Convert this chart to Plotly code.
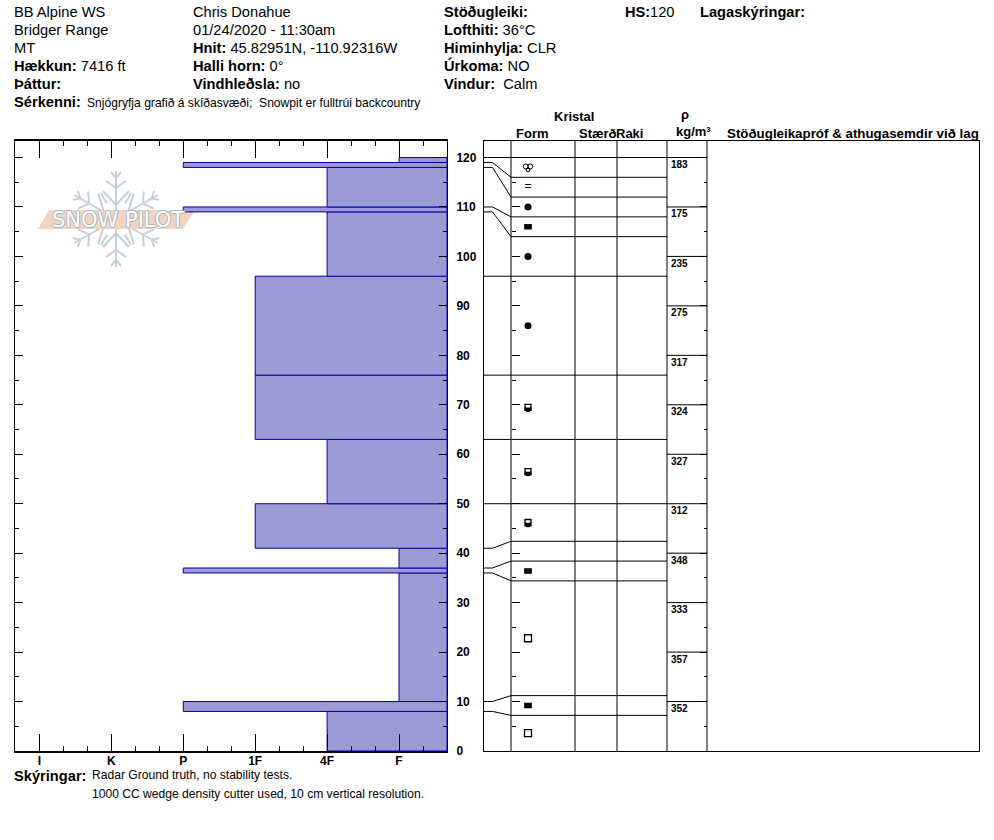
import math
import plotly.graph_objects as go

# ---------- data ----------
hardness_labels = ["I", "K", "P", "1F", "4F", "F"]
hardness_values = [1, 2, 3, 4, 5, 6]
layer_bottom = [0, 8, 10, 36, 37, 41, 50, 63, 76, 96, 109, 110, 118, 119]
layer_top = [8, 10, 36, 37, 41, 50, 63, 76, 96, 109, 110, 118, 119, 120]
layer_hard = ["4F", "P", "F", "P", "F", "1F", "4F", "1F", "1F", "4F", "P", "4F", "P", "F"]

boundary_depth = [120, 119, 118, 110, 109, 96, 76, 63, 50, 41, 37, 36, 10, 8]
boundary_display = [120, 116, 112, 108, 104, 96, 76, 63, 50, 42.4, 38.4, 34.4, 11.2, 7.2]

density_depth = [120, 110, 100, 90, 80, 70, 60, 50, 40, 30, 20, 10]
density_value = [183, 175, 235, 275, 317, 324, 327, 312, 348, 333, 357, 352]

round_depths = [110, 100, 86]
facet_depths = [106, 36.4, 9.2]
depth_hoar_depths = [22.8, 3.6]
mixed_depths = [69.5, 56.5, 46.2]
equals_depths = [114]
surface_depths = [118]

# ---------- page geometry ----------
W, H = 994, 840
PX_L, PX_R = 15, 447
PX_TOP, PX_BOT = 141, 751
G_L, G_R = 484, 979
DEPTH_MAX = 123.34
COL_BEND, COL_FORM, COL_SIZE, COL_MOIST, COL_DENS, COL_COMM = 492.5, 511, 575, 617, 667, 707
HARD_MIN, HARD_MAX = 0.66, 6.667
FONT = "Liberation Sans"
BAR_FILL = "#9c9bd6"
BAR_EDGE = "#0000a5"

def fx(x): return x / W
def fy(y): return 1 - y / H

hmap = dict(zip(hardness_labels, hardness_values))

fig = go.Figure()

# hardness bars
fig.add_trace(go.Bar(
    orientation="h",
    y=[(a + b) / 2 for a, b in zip(layer_bottom, layer_top)],
    width=[b - a for a, b in zip(layer_bottom, layer_top)],
    base=[hmap[h] for h in layer_hard],
    x=[HARD_MAX - hmap[h] for h in layer_hard],
    marker=dict(color=BAR_FILL, line=dict(color=BAR_EDGE, width=1)),
    xaxis="x", yaxis="y", showlegend=False, hoverinfo="skip",
))

def line(xs, ys, width=1):
    fig.add_trace(go.Scatter(x=xs, y=ys, mode="lines", line=dict(color="black", width=width),
                             xaxis="x2", yaxis="y2", showlegend=False, hoverinfo="skip"))

# columns
for c in [COL_FORM, COL_SIZE, COL_MOIST, COL_DENS, COL_COMM]:
    line([c, c], [0, DEPTH_MAX])
# top line of the layers across density too
line([COL_DENS, COL_COMM], [120, 120])
# layer boundaries with connector
for a, d in zip(boundary_depth, boundary_display):
    line([G_L, COL_BEND, COL_FORM, COL_DENS], [a, a, d, d])
# density steps
for d in density_depth[1:]:
    line([COL_DENS, COL_COMM], [d, d])

# density labels, on the axis at the density column's right edge
fig.add_trace(go.Scatter(
    x=[COL_DENS + 4] * len(density_depth), y=[d - 0.6 for d in density_depth],
    text=[str(v) for v in density_value], mode="text", textposition="bottom right",
    textfont=dict(family=FONT, size=10, color="black", weight=700),
    xaxis="x2", yaxis="y4", showlegend=False, hoverinfo="skip"))

XSYM = 528
def sym(ys, symbol, size, lw=0, fill="black", dx=0):
    fig.add_trace(go.Scatter(
        x=[XSYM + dx] * len(ys), y=ys, mode="markers",
        marker=dict(symbol=symbol, size=size, color=fill, line=dict(color="black", width=lw)),
        xaxis="x2", yaxis="y3", showlegend=False, hoverinfo="skip"))

sym(round_depths, "circle", 7)
sym(facet_depths, "line-ew", 5.5, lw=5.5)
sym(depth_hoar_depths, "square-open", 7, lw=1.3)
sym([d - 0.3 for d in mixed_depths], "circle", 6.5)
sym([d + 0.4 for d in mixed_depths], "square", 4.5, fill="white")
sym(mixed_depths, "square-open", 6, lw=1.3)
sym([d + 0.2 for d in surface_depths], "circle-open", 5, lw=1, dx=-2.2)
sym([d + 0.2 for d in surface_depths], "circle-open", 5, lw=1, dx=2.2)
sym([d - 0.5 for d in surface_depths], "circle-open", 4, lw=1)
fig.add_trace(go.Scatter(
    x=[XSYM] * len(equals_depths), y=equals_depths, mode="text", text=["="],
    textfont=dict(family=FONT, size=12, color="black"),
    xaxis="x2", yaxis="y3", showlegend=False, hoverinfo="skip"))

# ---------- logo (decoration, page coordinates) ----------
FLAKE = "#c3d2da"
cx, cy = 116, 219
def seg(x0, y0, x1, y1, width=2, color=FLAKE):
    return dict(type="line", xref="paper", yref="paper", layer="below",
                x0=fx(x0), y0=fy(y0), x1=fx(x1), y1=fy(y1), line=dict(color=color, width=width))
shapes = []
for k in range(6):
    t = math.radians(60 * k)
    ca, sa = math.cos(t), math.sin(t)
    def rot(u, v):
        return cx + u * ca - v * sa, cy + u * sa + v * ca
    shapes.append(seg(*rot(0, -8), *rot(0, -48)))
    for r0, sx, r1 in [(14, 13, 28), (31, 10, 38), (41, 5, 47)]:
        shapes.append(seg(*rot(0, -r0), *rot(-sx, -r1)))
        shapes.append(seg(*rot(0, -r0), *rot(sx, -r1)))
    t2 = math.radians(60 * k + 30)
    shapes.append(seg(cx + 18 * math.sin(t2), cy - 18 * math.cos(t2),
                      cx + 30 * math.sin(t2), cy - 30 * math.cos(t2)))
shapes.append(dict(type="path", xref="paper", yref="paper", layer="below",
                   path=f"M {fx(38)} {fy(229)} L {fx(49)} {fy(210)} L {fx(195)} {fy(210)} L {fx(183)} {fy(229)} Z",
                   fillcolor="#f0d6c2", line=dict(width=0)))

# ---------- text ----------
def txt(x, y, s, size=14.67, anchor="left", color="black"):
    return dict(x=fx(x), y=fy(y), xref="paper", yref="paper", text=s, showarrow=False,
                xanchor=anchor, yanchor="middle", align="left",
                font=dict(family=FONT, size=size, color=color), borderpad=0, borderwidth=0)

rows = [12, 30, 48, 66, 84]
ann = [
    txt(14, rows[0], "BB Alpine WS"), txt(14, rows[1], "Bridger Range"), txt(14, rows[2], "MT"),
    txt(14, rows[3], "<b>Hækkun:</b> 7416 ft"), txt(14, rows[4], "<b>Þáttur:</b>"),
    txt(193, rows[0], "Chris Donahue"), txt(193, rows[1], "01/24/2020 - 11:30am"),
    txt(193, rows[2], "<b>Hnit:</b> 45.82951N, -110.92316W"),
    txt(193, rows[3], "<b>Halli horn:</b> 0°"), txt(193, rows[4], "<b>Vindhleðsla:</b> no"),
    txt(444, rows[0], "<b>Stöðugleiki:</b>"), txt(444, rows[1], "<b>Lofthiti:</b> 36°C"),
    txt(444, rows[2], "<b>Himinhylja:</b> CLR"), txt(444, rows[3], "<b>Úrkoma:</b> NO"),
    txt(444, rows[4], "<b>Vindur:</b>  Calm"),
    txt(625, rows[0], "<b>HS:</b>"), txt(650, rows[0], "120"), txt(700, rows[0], "<b>Lagaskýringar:</b>"),
    txt(14, 102, "<b>Sérkenni:</b>"),
    txt(87, 103, "Snjógryfja grafið á skíðasvæði;  Snowpit er fulltrúi backcountry", size=12.1),
    txt(574, 117, "<b>Kristal</b>", size=13, anchor="center"),
    txt(516, 133, "<b>Form</b>", size=13), txt(579, 133, "<b>Stærð</b>", size=13),
    txt(616, 133, "<b>Raki</b>", size=13),
    txt(685, 115, "<b>ρ</b>", size=13, anchor="center"),
    txt(693, 131, "<b>kg/m³</b>", size=13, anchor="center"),
    txt(727, 133, "<b>Stöðugleikapróf &amp; athugasemdir við lag</b>", size=13.33),
    txt(14, 776, "<b>Skýringar:</b>"),
    txt(92, 775, "Radar Ground truth, no stability tests.", size=12.1),
    txt(92, 794, "1000 CC wedge density cutter used, 10 cm vertical resolution.", size=12.1),
]
logo = txt(118, 220, "SNOW PILOT", size=21, anchor="center", color="#ffffff")
logo["font"].update(family="DejaVu Sans",
                    shadow="1px 0 #a9b4bb, -1px 0 #a9b4bb, 0 1px #a9b4bb, 0 -1px #a9b4bb")
ann.append(logo)

tickfont = dict(family=FONT, size=12, color="black", weight=700)
dom_y = [fy(PX_BOT), fy(PX_TOP)]

fig.update_layout(
    template="none",
    width=W, height=H, margin=dict(l=0, r=0, t=0, b=0, autoexpand=False),
    paper_bgcolor="white", plot_bgcolor="rgba(0,0,0,0)",
    barmode="overlay", showlegend=False, shapes=shapes, annotations=ann,
    xaxis=dict(domain=[fx(PX_L), fx(PX_R)], range=[HARD_MIN, HARD_MAX], anchor="y", automargin=False,
               tickmode="array", tickvals=hardness_values, ticktext=hardness_labels,
               ticks="inside", ticklen=17, tickcolor="black", tickwidth=1,
               minor=dict(ticks="inside", ticklen=5, tickcolor="black", tickwidth=1,
                          tick0=1, dtick=1 / 3),
               showline=True, linecolor="black", linewidth=1.5, mirror="ticks",
               showgrid=False, zeroline=False, tickfont=tickfont, ticklabelstandoff=-2),
    yaxis=dict(domain=dom_y, range=[0, DEPTH_MAX], anchor="x", side="right", automargin=False,
               tick0=0, dtick=10, ticks="inside", ticklen=8, tickcolor="black", tickwidth=1,
               minor=dict(ticks="inside", ticklen=4, tickcolor="black", tickwidth=1, tick0=0, dtick=5),
               showline=True, linecolor="black", linewidth=1, mirror="ticks",
               showgrid=False, zeroline=False, tickfont=tickfont, ticklabelstandoff=6),
    xaxis2=dict(domain=[fx(G_L), fx(G_R)], range=[G_L, G_R], anchor="y2", automargin=False,
                showticklabels=False, ticks="", showline=True, linecolor="black", linewidth=1,
                mirror=True, showgrid=False, zeroline=False),
    yaxis2=dict(domain=dom_y, range=[0, DEPTH_MAX], anchor="x2", showticklabels=False, ticks="", automargin=False,
                showline=True, linecolor="black", linewidth=1, mirror=True,
                showgrid=False, zeroline=False),
    yaxis3=dict(domain=dom_y, range=[0, DEPTH_MAX], overlaying="y2", anchor="free", automargin=False,
                position=fx(COL_FORM), side="left", tick0=0, dtick=10, ticks="inside", ticklen=8,
                tickcolor="black", tickwidth=1, showticklabels=False, showgrid=False, zeroline=False,
                minor=dict(ticks="inside", ticklen=4, tickcolor="black", tick0=0, dtick=5)),
    yaxis4=dict(domain=dom_y, range=[0, DEPTH_MAX], overlaying="y2", anchor="free", automargin=False,
                position=fx(COL_COMM), side="right", tick0=0, dtick=10, ticks="inside", ticklen=7,
                tickcolor="black", tickwidth=1, showticklabels=False, showgrid=False, zeroline=False,
                minor=dict(ticks="inside", ticklen=3, tickcolor="black", tick0=0, dtick=5)),
)

fig.write_html("out.html", config=dict(displayModeBar=False),
               post_script="document.body.style.margin='0';document.body.style.overflow='hidden';")
